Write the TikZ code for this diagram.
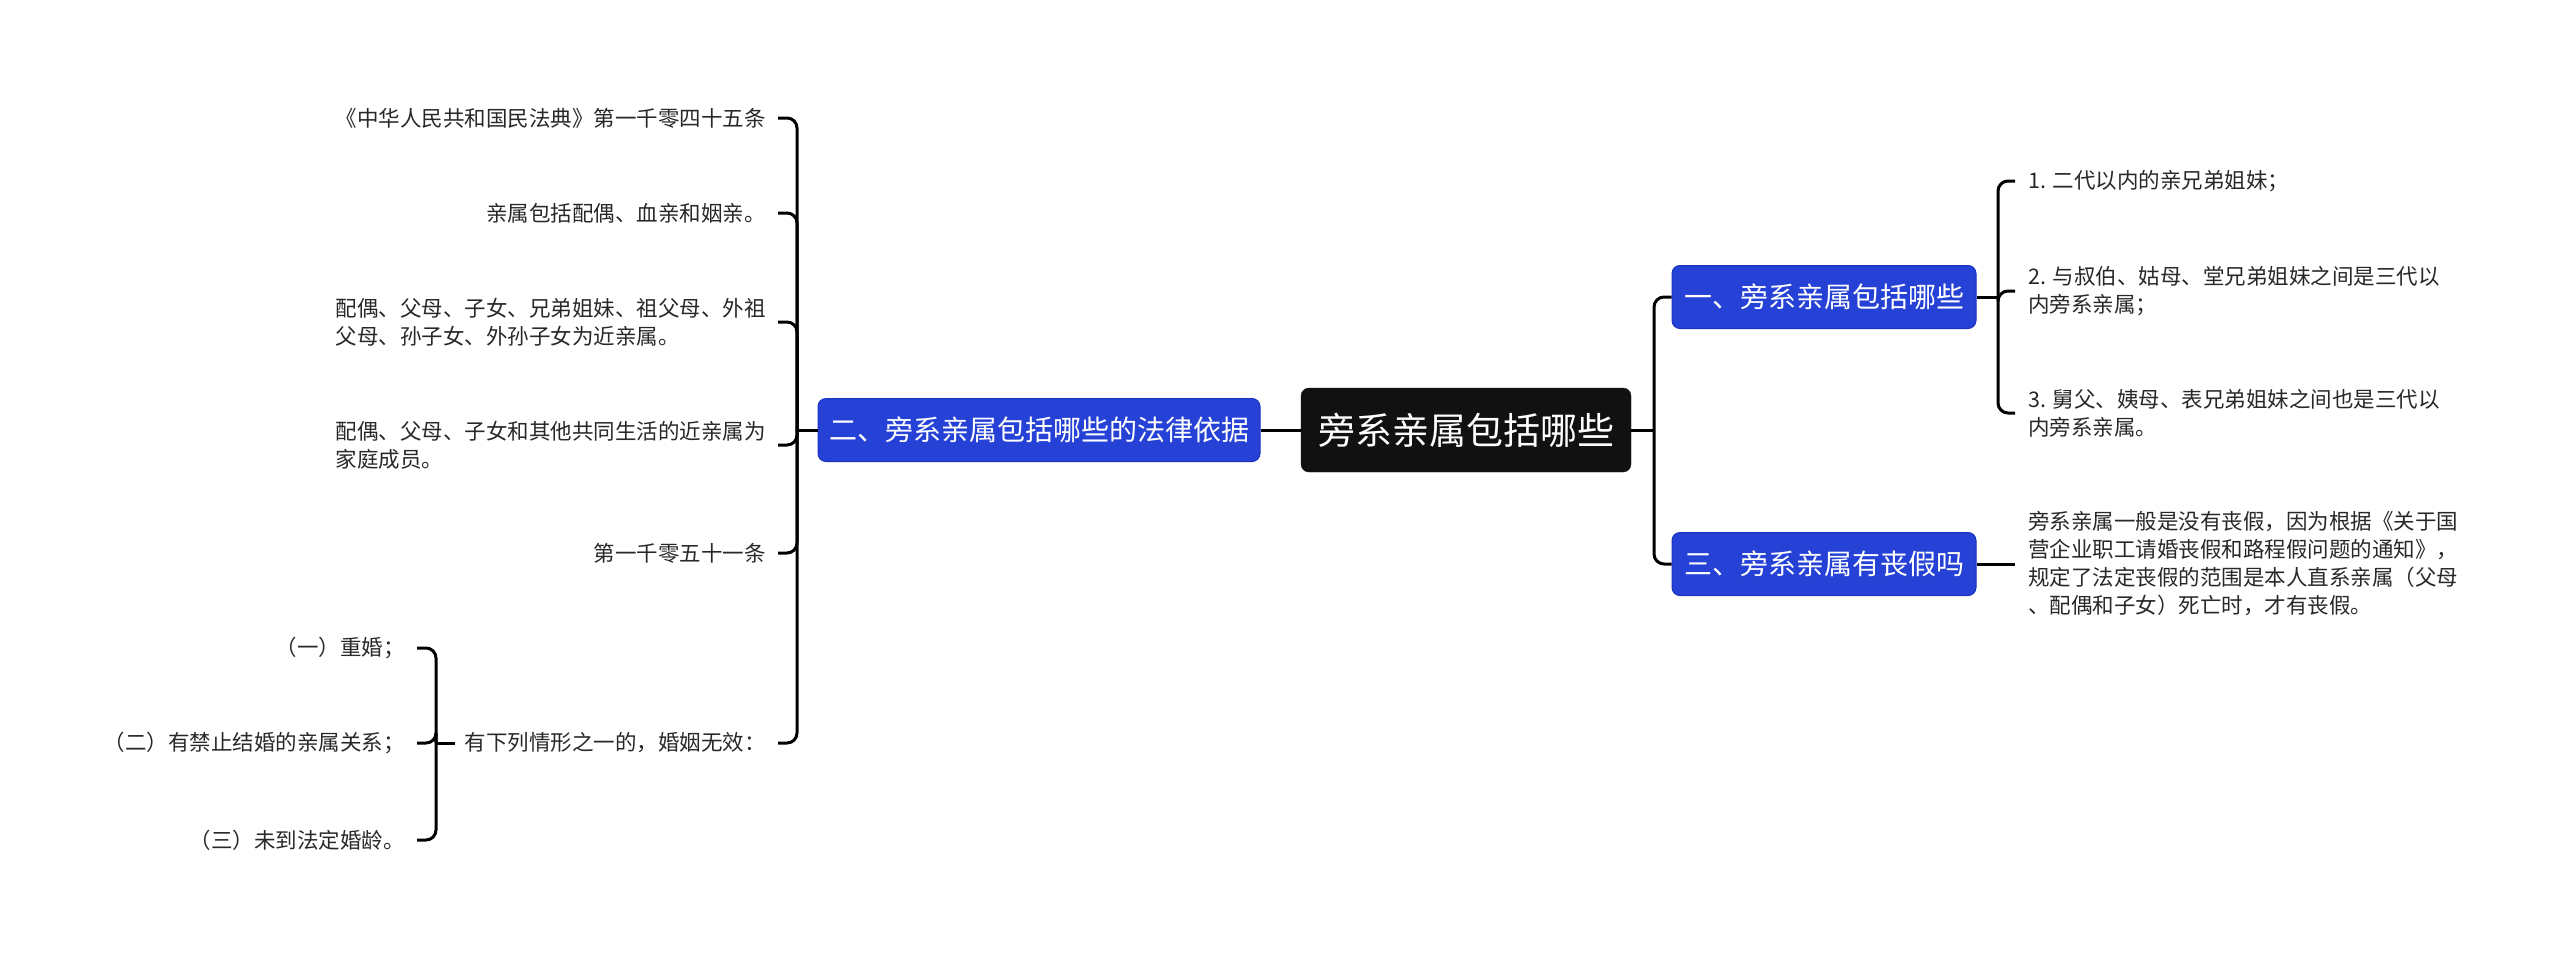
\documentclass[tikz,border=0pt]{standalone}
\usepackage{fontspec}
\setmainfont{Noto Sans CJK SC}
\usetikzlibrary{calc}
\definecolor{rootfill}{RGB}{17,17,17}
\definecolor{bluefill}{RGB}{38,66,214}
\definecolor{blueline}{RGB}{28,50,190}
\definecolor{leaftext}{RGB}{40,40,40}
\tikzset{
  rootbox/.style={fill=rootfill, draw=rootfill, rounded corners=8pt, text=white, inner sep=0pt,
    minimum width=330pt, minimum height=84pt, font=\fontsize{37pt}{44pt}\selectfont},
  bluebox/.style={fill=bluefill, draw=blueline, line width=1pt, rounded corners=8pt, text=white, inner sep=0pt,
    minimum height=63pt, font=\fontsize{28pt}{34pt}\selectfont},
  leaf/.style={inner sep=0pt, align=left, text=leaftext, font=\fontsize{21.5pt}{28pt}\selectfont},
  conn/.style={draw=black, line width=3pt, rounded corners=10pt},
}
\begin{document}
\begin{tikzpicture}[x=1pt,y=-1pt]
\useasboundingbox (0,0) rectangle (2560,956);
% main nodes
\node[rootbox] (c) at (1466,430) {旁系亲属包括哪些};
\node[bluebox, minimum width=442pt] (b2) at (1039,430) {二、旁系亲属包括哪些的法律依据};
\node[bluebox, minimum width=304pt] (b1) at (1824,297) {一、旁系亲属包括哪些};
\node[bluebox, minimum width=304pt] (b3) at (1824,564) {三、旁系亲属有丧假吗};
% right leaves
\node[leaf, anchor=west] (r1) at (2028,181) {1. 二代以内的亲兄弟姐妹；};
\node[leaf, anchor=west] (r2) at (2028,291) {2. 与叔伯、姑母、堂兄弟姐妹之间是三代以\\内旁系亲属；};
\node[leaf, anchor=west] (r3) at (2028,413) {3. 舅父、姨母、表兄弟姐妹之间也是三代以\\内旁系亲属。};
\node[leaf, anchor=west] (r4) at (2028,564) {旁系亲属一般是没有丧假，因为根据《关于国\\营企业职工请婚丧假和路程假问题的通知》，\\规定了法定丧假的范围是本人直系亲属（父母\\、配偶和子女）死亡时，才有丧假。};
% left leaves
\node[leaf, anchor=east] (l1) at (766,118) {《中华人民共和国民法典》第一千零四十五条};
\node[leaf, anchor=east] (l2) at (766,213) {亲属包括配偶、血亲和姻亲。};
\node[leaf, anchor=east] (l3) at (766,322) {配偶、父母、子女、兄弟姐妹、祖父母、外祖\\父母、孙子女、外孙子女为近亲属。};
\node[leaf, anchor=east] (l4) at (766,445) {配偶、父母、子女和其他共同生活的近亲属为\\家庭成员。};
\node[leaf, anchor=east] (l5) at (766,553) {第一千零五十一条};
\node[leaf, anchor=east] (l6) at (766,743) {有下列情形之一的，婚姻无效：};
\node[leaf, anchor=east] (s1) at (405,648) {（一）重婚；};
\node[leaf, anchor=east] (s2) at (405,743) {（二）有禁止结婚的亲属关系；};
\node[leaf, anchor=east] (s3) at (405,840) {（三）未到法定婚龄。};
% spine points
\coordinate (Rsp) at (1654,430);
\coordinate (S1) at (1998,297);
\coordinate (Lsp) at (797,430);
\coordinate (S6) at (436,743);
% connectors right
\draw[conn] (c.east) -- (Rsp);
\draw[conn] (Rsp) |- (b1.west);
\draw[conn] (Rsp) |- (b3.west);
\draw[conn] (b1.east) -- (S1);
\draw[conn] (S1) |- ([xshift=-13pt]r1.west);
\draw[conn] (S1) |- ([xshift=-13pt]r2.west);
\draw[conn] (S1) |- ([xshift=-13pt]r3.west);
\draw[conn] (b3.east) -- ([xshift=-13pt]r4.west);
% connectors left
\draw[conn] (c.west) -- (b2.east);
\draw[conn] (b2.west) -- (Lsp);
\draw[conn] (Lsp) |- ([xshift=12pt]l1.east);
\draw[conn] (Lsp) |- ([xshift=12pt]l2.east);
\draw[conn] (Lsp) |- ([xshift=12pt]l3.east);
\draw[conn] (Lsp) |- ([xshift=12pt]l4.east);
\draw[conn] (Lsp) |- ([xshift=12pt]l5.east);
\draw[conn] (Lsp) |- ([xshift=12pt]l6.east);
\draw[conn] ([xshift=-10pt]l6.west) -- (S6);
\draw[conn] (S6) |- ([xshift=12pt]s1.east);
\draw[conn] (S6) |- ([xshift=12pt]s2.east);
\draw[conn] (S6) |- ([xshift=12pt]s3.east);
\end{tikzpicture}
\end{document}
